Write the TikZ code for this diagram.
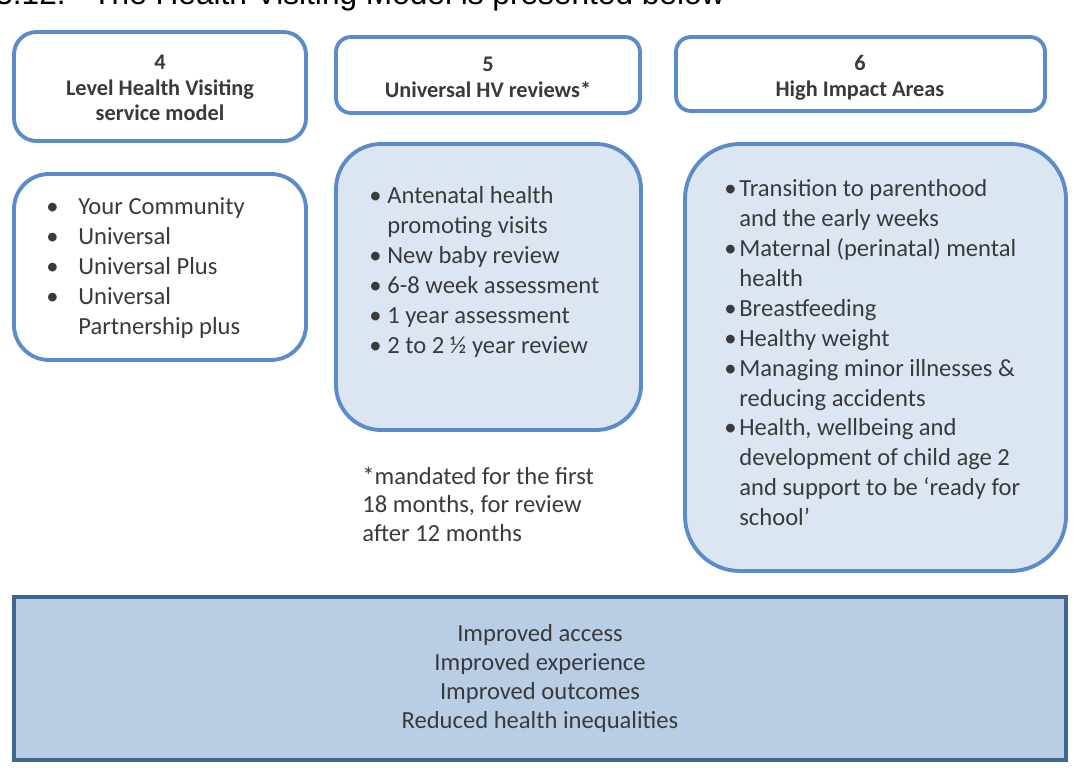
\documentclass[tikz,border=0pt]{standalone}
\usepackage{fontspec}
\setmainfont{Carlito}
\newfontfamily\arialfont{Liberation Sans}
\usetikzlibrary{fit}
\definecolor{hvblue}{HTML}{5B8BC9}
\definecolor{hvfill}{HTML}{DCE6F2}
\definecolor{hvbot}{HTML}{B9CDE5}
\definecolor{hvbotline}{HTML}{3F6591}
\definecolor{hvtext}{HTML}{3A3A3A}
\newcommand\bu[1]{\makebox[#1][l]{\textbullet}}
\begin{document}
\begin{tikzpicture}[x=0.02cm,y=-0.02cm,
  hdr/.style={draw=hvblue, line width=2.2pt, fill=white, inner sep=0pt},
  lstbox/.style={draw=hvblue, line width=2.2pt, inner sep=0pt},
  hdrtext/.style={align=center, text=hvtext, inner sep=0pt, font=\bfseries\fontsize{12.7}{14.7}\selectfont},
  lsttext/.style={anchor=base west, text=hvtext, inner sep=0pt, font=\fontsize{14}{17}\selectfont},
  bottext/.style={anchor=base, text=hvtext, inner sep=0pt, font=\fontsize{14}{16.6}\selectfont}
]
\useasboundingbox (0,0) rectangle (1084,776);
\fill[white] (0,0) rectangle (1084,776);

% title (cut off at top, as in the reference)
\node[anchor=base east, inner sep=0pt, font=\arialfont\fontsize{18}{20}\selectfont] (num) at (66,5) {3.12.};
\node[anchor=base west, inner sep=0pt, font=\arialfont\fontsize{18}{20}\selectfont] (title) at (92,5) {The Health Visiting Model is presented below};

% header boxes
\node[hdr, rounded corners=0.45cm, fit={(14,32) (306,141)}] (h4) {};
\node[hdr, rounded corners=0.3cm, fit={(336,37) (640,113)}] (h5) {};
\node[hdr, rounded corners=0.3cm, fit={(676,37) (1045,111)}] (h6) {};
\node[hdrtext] (t4) at (160,88) {4\\Level Health Visiting\\service model};
\node[hdrtext] (t5) at (488,77) {5\\Universal HV reviews*};
\node[hdrtext] (t6) at (860,78) {6\\High Impact Areas};

% list boxes
\node[lstbox, fill=white, rounded corners=0.7cm, fit={(14,174) (306,360)}] (l4) {};
\node[lstbox, fill=hvfill, rounded corners=0.9cm, fit={(336,144) (641,430)}] (l5) {};
\node[lstbox, fill=hvfill, rounded corners=1.1cm, fit={(685,144) (1066,571)}] (l6) {};

\node[lsttext] (x4) at (46,215) {\begin{tabular}[t]{@{}l@{}l@{}}
\bu{0.64cm}& Your Community\\
\bu{0.64cm}& Universal\\
\bu{0.64cm}& Universal Plus\\
\bu{0.64cm}& Universal\\
& Partnership plus
\end{tabular}};

\node[lsttext] (x5) at (369,204) {\begin{tabular}[t]{@{}l@{}l@{}}
\bu{0.36cm}& Antenatal health\\
& promoting visits\\
\bu{0.36cm}& New baby review\\
\bu{0.36cm}& 6-8 week assessment\\
\bu{0.36cm}& 1 year assessment\\
\bu{0.36cm}& 2 to 2 ½ year review
\end{tabular}};

\node[lsttext] (x6) at (724,197) {\begin{tabular}[t]{@{}l@{}l@{}}
\bu{0.3cm}& Transition to parenthood\\
& and the early weeks\\
\bu{0.3cm}& Maternal (perinatal) mental\\
& health\\
\bu{0.3cm}& Breastfeeding\\
\bu{0.3cm}& Healthy weight\\
\bu{0.3cm}& Managing minor illnesses \&\\
& reducing accidents\\
\bu{0.3cm}& Health, wellbeing and\\
& development of child age 2\\
& and support to be ‘ready for\\
& school’
\end{tabular}};

\node[lsttext, font=\fontsize{14}{16.4}\selectfont] (note) at (362,484) {\begin{tabular}[t]{@{}l@{}}
*mandated for the first\\
18 months, for review\\
after 12 months
\end{tabular}};

% bottom outcomes box
\node[draw=hvbotline, line width=2.2pt, fill=hvbot, inner sep=0pt, fit={(14,597) (1066,760)}] (bot) {};
\node[bottext] (outc) at (540,641) {\begin{tabular}[t]{@{}c@{}}
Improved access\\
Improved experience\\
Improved outcomes\\
Reduced health inequalities
\end{tabular}};
\end{tikzpicture}
\end{document}
